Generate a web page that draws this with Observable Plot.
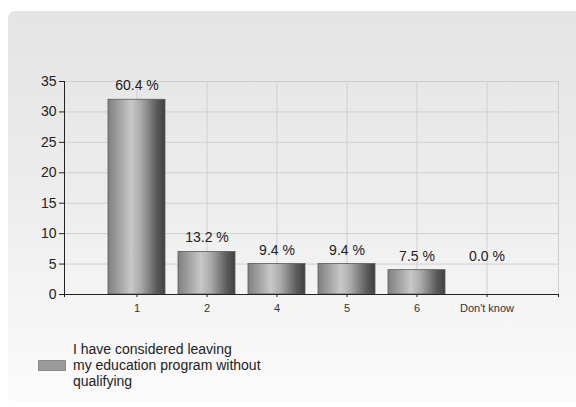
<!DOCTYPE html>
<html>
<head>
<meta charset="utf-8">
<script src="https://cdn.jsdelivr.net/npm/d3@7"></script>
<script src="https://cdn.jsdelivr.net/npm/@observablehq/plot@0.6"></script>
<style>
  html, body { margin: 0; padding: 0; background: #fff; }
  #wrap { position: relative; width: 576px; height: 407px; overflow: hidden;
          font-family: "Liberation Sans", Arial, sans-serif; }
  #panel { position: absolute; left: 8px; top: 11px; width: 580px; height: 391px;
           border-radius: 7px;
           background: linear-gradient(to bottom, #e4e4e4 0%, #ececec 45%, #f6f6f6 80%, #fbfbfb 100%); }
  #chart { position: absolute; left: 0; top: 0; }
  #legend { position: absolute; left: 38px; top: 341px; display: flex; align-items: center; }
  #legend .swatch { width: 28px; height: 11px; background: #9a9a9a; border: 0.5px solid #8a8a8a; box-sizing: border-box; }
  #legend .label { margin-left: 7px; font-size: 14px; line-height: 16px; color: #222; }
</style>
</head>
<body>
<div id="wrap">
  <div id="panel"></div>
  <div id="chart"></div>
  <div id="legend"><div class="swatch"></div><div class="label"></div></div>
</div>
<script>
// Answers per option and their share of all responses
const categories = ["1", "2", "4", "5", "6", "Don't know"];
const counts = [32, 7, 5, 5, 4, 0];
const percents = ["60.4 %", "13.2 %", "9.4 %", "9.4 %", "7.5 %", "0.0 %"];
const yTicks = [0, 5, 10, 15, 20, 25, 30, 35];
const legendLines = ["I have considered leaving", "my education program without", "qualifying"];

const rows = categories.map((c, i) => ({category: c, count: counts[i], label: percents[i]}));

// Shaded cylinder look for the bars
const gradient = () => {
  const defs = d3.create("svg:defs");
  const g = defs.append("linearGradient").attr("id", "cyl").attr("x1", 0).attr("x2", 1).attr("y1", 0).attr("y2", 0);
  [[0, "#808080"], [0.22, "#a6a6a6"], [0.4, "#c8c8c8"], [0.58, "#a9a9a9"], [0.85, "#5c5c5c"], [1, "#404040"]]
    .forEach(([o, c]) => g.append("stop").attr("offset", o).attr("stop-color", c));
  return defs.node();
};

const chart = Plot.plot({
  width: 576,
  height: 320,
  marginTop: 81,
  marginBottom: 26,
  marginLeft: 64,
  marginRight: 18,
  style: {background: "transparent", fontFamily: "\"Liberation Sans\", Arial, sans-serif", color: "#222"},
  x: {domain: categories, paddingInner: 0.19, paddingOuter: 0.595, label: null},
  y: {domain: [0, 35], label: null},
  marks: [
    gradient,
    Plot.ruleY(yTicks, {stroke: "#cfcfcf"}),
    Plot.ruleX(categories, {x: d => d, stroke: "#cfcfcf"}),
    Plot.frame({stroke: "#cfcfcf"}),
    Plot.barY(rows, {x: "category", y: "count", fill: "url(#cyl)", stroke: "#5a5a5a", strokeWidth: 0.8}),
    Plot.text(rows, {x: "category", y: d => Math.max(d.count, 4), text: "label", dy: -14, fontSize: 14, fill: "#222"}),
    Plot.axisY({ticks: yTicks, tickSize: 5, tickPadding: 3, fontSize: 14, stroke: "#222", label: null}),
    Plot.axisX({tickSize: 3, tickPadding: 7, fontSize: 11, stroke: "#222", fill: "#333", label: null}),
    Plot.ruleY([0], {stroke: "#222"})
  ]
});

// Axis lines and end ticks placed from the scale ranges
const xr = chart.scale("x").range;
const yr = chart.scale("y").range;
const svg = d3.select(chart);
const axes = svg.append("g").attr("stroke", "#222").attr("stroke-width", 1);
axes.append("line").attr("x1", xr[0] + 0.5).attr("x2", xr[0] + 0.5).attr("y1", yr[1]).attr("y2", yr[0] + 3);
axes.append("line").attr("x1", xr[1] + 0.5).attr("x2", xr[1] + 0.5).attr("y1", yr[0]).attr("y2", yr[0] + 3);

document.getElementById("chart").appendChild(chart);

const lab = document.querySelector("#legend .label");
legendLines.forEach((t, i) => {
  if (i) lab.appendChild(document.createElement("br"));
  lab.appendChild(document.createTextNode(t));
});
</script>
</body>
</html>
